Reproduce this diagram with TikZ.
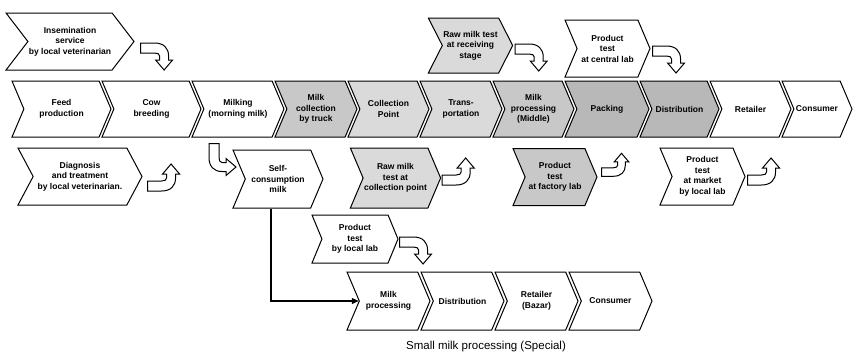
\documentclass[tikz,border=0pt]{standalone}
\usepackage{fontspec}
\setmainfont{Liberation Sans}
\definecolor{lightdots}{RGB}{218,218,218}
\definecolor{middots}{RGB}{200,200,200}
\definecolor{densedots}{RGB}{184,184,184}
\usetikzlibrary{shapes.symbols, arrows.meta, calc}

\tikzset{
  stage/.style={signal, signal from=west, signal to=east, signal pointer angle=134,
    draw, line width=1pt, align=center, inner sep=1pt, minimum height=56pt,
    font=\bfseries\fontsize{8.5}{10.5}\selectfont},
  bentdown/.pic={
    \filldraw[fill=white, line width=1pt, line join=miter]
      (0,-5) -- (14,-5) .. controls (23,-5) and (28,0) .. (28,8) -- (28,12) -- (32,12)
      -- (23.5,22) -- (15,12) -- (19,12) -- (19,8) .. controls (19,6) and (17,5) .. (14,5)
      -- (0,5) -- cycle;
  },
  bentright/.pic={
    \filldraw[fill=white, line width=1pt, line join=miter]
      (-5,0) -- (-5,14) .. controls (-5,23) and (0,28) .. (8,28) -- (12,28) -- (12,32)
      -- (22,23.5) -- (12,15) -- (12,19) -- (8,19) .. controls (6,19) and (5,17) .. (5,14)
      -- (5,0) -- cycle;
  }
}

\begin{document}
\begin{tikzpicture}[x=1pt, y=-1pt]
\useasboundingbox (0,0) rectangle (854,354);

\node[stage, minimum width=124pt, minimum height=57pt, signal pointer angle=105] (insem) at (70,41.5) {Insemination\\service\\by local veterinarian};
\node[stage, minimum width=83pt, minimum height=55pt, signal pointer angle=126, fill=lightdots] (rawrecv) at (470.5,45.5) {Raw milk test\\at receiving\\stage};
\node[stage, minimum width=85pt, minimum height=57pt] (central) at (607.5,48.5) {Product\\test\\at central lab};

\node[stage, minimum width=99pt] (feed) at (61.5,109) {Feed\\production};
\node[stage, minimum width=99pt] (cow) at (151.5,109) {Cow\\breeding};
\node[stage, minimum width=92pt] (milking) at (238,109) {Milking\\(morning milk)};
\node[stage, minimum width=82pt, fill=middots] (truck) at (316,109) {Milk\\collection\\by truck};
\node[stage, minimum width=81pt, fill=lightdots] (collpt) at (388.5,109) {Collection\\Point};
\node[stage, minimum width=82pt, fill=lightdots] (transport) at (461,109) {Trans-\\portation};
\node[stage, minimum width=81pt, fill=middots] (midproc) at (533.5,109) {Milk\\processing\\(Middle)};
\node[stage, minimum width=84pt, fill=densedots] (packing) at (607,109) {Packing};
\node[stage, minimum width=79pt, fill=densedots] (distrib) at (679.5,109) {Distribution};
\node[stage, minimum width=81pt] (retailer) at (750.5,109) {Retailer};
\node[stage, minimum width=70pt] (consumer) at (817,109) {Consumer};

\node[stage, minimum width=124pt, minimum height=57pt, signal pointer angle=124] (diag) at (80,176.5) {Diagnosis\\and treatment\\by local veterinarian.};
\node[stage, minimum width=90pt, minimum height=58pt] (selfcons) at (278,179) {Self-\\consumption\\milk};
\node[stage, minimum width=87pt, minimum height=60pt, fill=lightdots] (rawcoll) at (395.5,178) {Raw milk\\test at\\collection point};
\node[stage, minimum width=84pt, minimum height=57pt, fill=middots] (factory) at (555,177) {Product\\test\\at factory lab};
\node[stage, minimum width=85pt, minimum height=57pt] (market) at (702.5,176.5) {Product\\test\\at market\\by local lab};

\node[stage, minimum width=86pt, minimum height=48pt, signal pointer angle=135] (localtest) at (355,239) {Product\\test\\by local lab};

\node[stage, minimum width=83pt, minimum height=58pt] (smallproc) at (388.5,301) {Milk\\processing};
\node[stage, minimum width=83pt, minimum height=58pt] (smalldist) at (462.5,301) {Distribution};
\node[stage, minimum width=83pt, minimum height=58pt] (smallret) at (536.5,301) {Retailer\\(Bazar)};
\node[stage, minimum width=83pt, minimum height=58pt] (smallcons) at (610.5,301) {Consumer};

\node[font=\fontsize{11.5}{13}\selectfont] (caption) at (486,347) {Small milk processing (Special)};

\pic at ($(insem.east)+(6,6.5)$) {bentdown};
\pic at ($(rawrecv.east)+(2,3.5)$) {bentdown};
\pic at ($(central.east)+(2,2.5)$) {bentdown};
\pic at ($(localtest.east)+(1,3)$) {bentdown};
\pic[yscale=-1] at ($(diag.east)+(5,9.5)$) {bentdown};
\pic[yscale=-1] at ($(rawcoll.east)+(1,2)$) {bentdown};
\pic[yscale=-0.85, xscale=0.85] at ($(factory.east)+(4,-5)$) {bentdown};
\pic[yscale=-1] at ($(market.east)+(2,3.5)$) {bentdown};
\pic at ($(milking.south)+(-24,6)$) {bentright};

\draw[line width=1.2pt, -{Triangle[length=7pt, width=6pt]}] ([xshift=-7pt]selfcons.south) |- (smallproc.west);
\end{tikzpicture}
\end{document}
